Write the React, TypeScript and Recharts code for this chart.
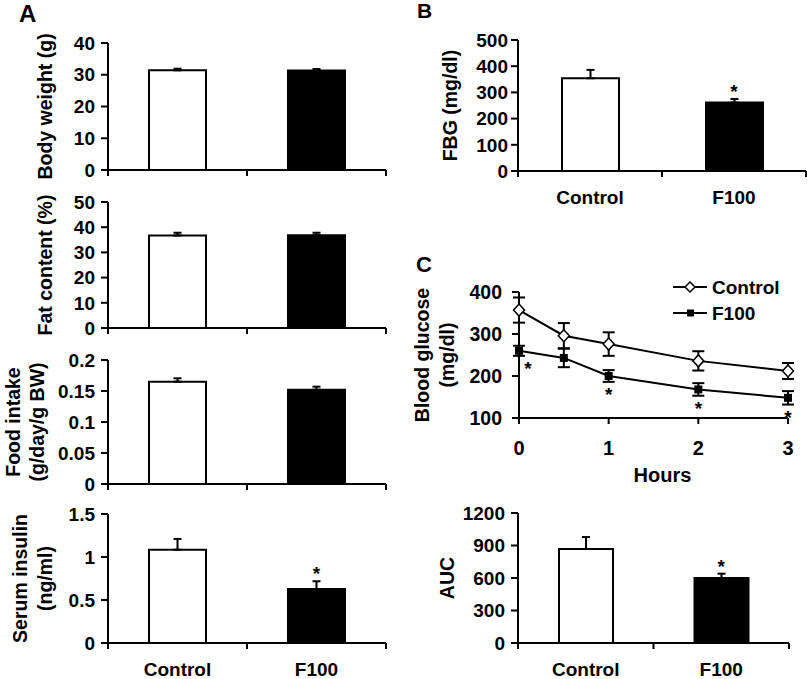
import React from 'react';
import {
  ComposedChart,
  Bar,
  Cell,
  Line,
  XAxis,
  YAxis,
  ErrorBar,
  ReferenceDot,
  Legend,
} from 'recharts';

const W = 807;
const H = 679;
const FONT = '"Liberation Sans", Arial, Helvetica, sans-serif';

// groups
const groups = ['Control', 'F100'];
const barFills = ['#ffffff', '#000000'];

// panel A
const bodyWeight = [31.4, 31.3];
const bodyWeightErr = [0.5, 0.5];
const fatContent = [36.7, 36.8];
const fatContentErr = [1.1, 1.0];
const foodIntake = [0.165, 0.152];
const foodIntakeErr = [0.0055, 0.005];
const serumInsulin = [1.085, 0.628];
const serumInsulinErr = [0.125, 0.09];
const serumInsulinSig = [false, true];

// panel B
const fbg = [354, 261];
const fbgErr = [32, 14];
const fbgSig = [false, true];

// panel C
const hours = [0, 0.5, 1, 2, 3];
const controlGlucose = [357, 296, 276, 236, 212];
const controlGlucoseErr = [30, 30, 28, 23, 19];
const f100Glucose = [260, 243, 200, 168, 148];
const f100GlucoseErr = [12, 22, 14, 15, 16];
const f100GlucoseSig = [true, false, true, true, true];
const auc = [868, 600];
const aucErr = [110, 40];
const aucSig = [false, true];

const txt = { fontFamily: FONT, fontWeight: 700, fill: '#000' } as const;
const axisLine = { stroke: '#000', strokeWidth: 2 };

type Box = { left: number; right: number; top: number; bottom: number };

function AxisTitle({ viewBox, lines, xs, size = 19.5 }: any) {
  const cy = viewBox.y + viewBox.height / 2;
  return (
    <g>
      {lines.map((t: string, i: number) => (
        <text
          key={i}
          x={xs[i]}
          y={cy}
          transform={`rotate(-90 ${xs[i]} ${cy})`}
          textAnchor="middle"
          dominantBaseline="central"
          fontSize={size}
          {...txt}
        >
          {t}
        </text>
      ))}
    </g>
  );
}

function BandTick({ x, y, index, payload, band, showName }: any) {
  return (
    <g>
      {index === 0 && (
        <line x1={x - band / 2} x2={x - band / 2} y1={y} y2={y + 6} stroke="#000" strokeWidth={2} />
      )}
      <line x1={x + band / 2} x2={x + band / 2} y1={y} y2={y + 6} stroke="#000" strokeWidth={2} />
      {showName && (
        <text x={x} y={y + 33} textAnchor="middle" fontSize={19} {...txt}>
          {payload.value}
        </text>
      )}
    </g>
  );
}

const StarAbove = (props: any) => (
  <text x={props.cx} y={props.cy - 1} textAnchor="middle" fontSize={19} {...txt}>
    *
  </text>
);

interface BarPanelProps {
  values: number[];
  errors: number[];
  sig?: boolean[];
  domain: [number, number];
  ticks: number[];
  title: string[];
  titleX: number[];
  box: Box;
  barSize: number;
  showNames?: boolean;
  tickMargin?: number;
}

function BarPanel({ values, errors, sig, domain, ticks, title, titleX, box, barSize, showNames, tickMargin = 6 }: BarPanelProps) {
  const data = groups.map((g, i) => ({
    name: g,
    value: values[i],
    err: [0, errors[i]],
    top: values[i] + errors[i],
  }));
  const band = (box.right - box.left) / groups.length;
  return (
    <div style={{ position: 'absolute', left: 0, top: 0 }}>
      <ComposedChart
        width={W}
        height={H}
        data={data}
        margin={{ top: box.top, right: W - box.right, bottom: H - box.bottom - 40, left: box.left - 60 }}
      >
        <XAxis
          dataKey="name"
          height={40}
          axisLine={axisLine}
          tickLine={false}
          tickSize={0}
          tickMargin={0}
          interval={0}
          tick={<BandTick band={band} showName={showNames} />}
        />
        <YAxis
          width={60}
          domain={domain}
          ticks={ticks}
          interval={0}
          allowDataOverflow
          axisLine={axisLine}
          tickLine={{ stroke: '#000', strokeWidth: 2 }}
          tickSize={7}
          tickMargin={tickMargin}
          tick={{ fontSize: 19, ...txt }}
          label={<AxisTitle lines={title} xs={titleX} />}
        />
        <Bar dataKey="value" barSize={barSize} stroke="#000" strokeWidth={2} isAnimationActive={false}>
          {data.map((d, i) => (
            <Cell key={d.name} fill={barFills[i]} />
          ))}
          <ErrorBar dataKey="err" width={4} stroke="#000" strokeWidth={2} direction="y" />
        </Bar>
        {data.map((d, i) =>
          sig && sig[i] ? <ReferenceDot key={d.name} x={d.name} y={d.top} r={0} shape={StarAbove} /> : null
        )}
      </ComposedChart>
    </div>
  );
}

const DiamondDot = (props: any) => {
  const { cx, cy } = props;
  if (cx == null || cy == null) return <g />;
  return (
    <path
      d={`M${cx},${cy - 6} L${cx + 5.5},${cy} L${cx},${cy + 6} L${cx - 5.5},${cy} Z`}
      fill="#fff"
      stroke="#000"
      strokeWidth={1.5}
    />
  );
};

const SquareDot = (props: any) => {
  const { cx, cy } = props;
  if (cx == null || cy == null) return <g />;
  return <rect x={cx - 4} y={cy - 4} width={8} height={8} fill="#000" />;
};

const StarBelow = (props: any) => (
  <text
    x={props.cx + (props.hour === 0 ? 9 : 0)}
    y={props.cy + 19}
    textAnchor="middle"
    fontSize={19}
    {...txt}
  >
    *
  </text>
);

function HourTick({ x, y, payload }: any) {
  return (
    <text x={x} y={y + 31} textAnchor="middle" fontSize={20} {...txt}>
      {payload.value}
    </text>
  );
}

function HoursLabel({ viewBox }: any) {
  return (
    <text x={viewBox.x + viewBox.width / 2 + 9} y={482} textAnchor="middle" fontSize={20} {...txt}>
      Hours
    </text>
  );
}

function GlucoseLegend({ payload }: any) {
  return (
    <svg width={134} height={52}>
      {(payload || []).map((p: any, i: number) => {
        const y = 13 + i * 26;
        return (
          <g key={p.value}>
            <line x1={0} x2={34} y1={y} y2={y} stroke="#000" strokeWidth={2} />
            {i === 0 ? (
              <path d={`M17,${y - 5} L22,${y} L17,${y + 5} L12,${y} Z`} fill="#fff" stroke="#000" strokeWidth={1.5} />
            ) : (
              <rect x={14} y={y - 3.5} width={7} height={7} fill="#000" />
            )}
            <text x={39} y={y + 6.5} fontSize={19} {...txt}>
              {p.value}
            </text>
          </g>
        );
      })}
    </svg>
  );
}

function GlucosePanel() {
  const box = { left: 519, right: 788, top: 292, bottom: 418 };
  const data = hours.map((h, i) => ({
    h,
    control: controlGlucose[i],
    controlErr: controlGlucoseErr[i],
    f100: f100Glucose[i],
    f100Err: f100GlucoseErr[i],
  }));
  return (
    <div style={{ position: 'absolute', left: 0, top: 0 }}>
      <ComposedChart
        width={W}
        height={H}
        data={data}
        margin={{ top: box.top, right: W - box.right, bottom: H - box.bottom - 40, left: box.left - 60 }}
      >
        <XAxis
          dataKey="h"
          type="number"
          domain={[0, 3]}
          ticks={[0, 1, 2, 3]}
          interval={0}
          height={40}
          axisLine={axisLine}
          tickLine={{ stroke: '#000', strokeWidth: 2 }}
          tickSize={6}
          tickMargin={0}
          tick={<HourTick />}
          label={<HoursLabel />}
        />
        <YAxis
          width={60}
          domain={[100, 400]}
          ticks={[100, 200, 300, 400]}
          interval={0}
          allowDataOverflow
          axisLine={axisLine}
          tickLine={{ stroke: '#000', strokeWidth: 2 }}
          tickSize={7}
          tickMargin={10}
          tick={{ fontSize: 19.5, ...txt }}
          label={<AxisTitle lines={['Blood glucose', '(mg/dl)']} xs={[422, 447]} />}
        />
        <Line
          name="Control"
          dataKey="control"
          stroke="#000"
          strokeWidth={2}
          dot={DiamondDot}
          isAnimationActive={false}
        >
          <ErrorBar dataKey="controlErr" width={6} stroke="#000" strokeWidth={2} direction="y" />
        </Line>
        <Line
          name="F100"
          dataKey="f100"
          stroke="#000"
          strokeWidth={2}
          dot={SquareDot}
          isAnimationActive={false}
        >
          <ErrorBar dataKey="f100Err" width={6} stroke="#000" strokeWidth={2} direction="y" />
        </Line>
        {hours.map((h, i) =>
          f100GlucoseSig[i] ? (
            <ReferenceDot
              key={h}
              x={h}
              y={f100Glucose[i] - f100GlucoseErr[i]}
              r={0}
              shape={(p: any) => <StarBelow {...p} hour={h} />}
            />
          ) : null
        )}
        <Legend
          layout="horizontal"
          align="center"
          verticalAlign="middle"
          content={<GlucoseLegend />}
          wrapperStyle={{ position: 'absolute', left: 673, top: 274, width: 134, height: 52 }}
        />
      </ComposedChart>
    </div>
  );
}

export default function App() {
  return (
    <div style={{ position: 'absolute', left: 0, top: 0, width: W, height: H, background: '#fff', overflow: 'hidden' }}>
      <BarPanel
        values={bodyWeight}
        errors={bodyWeightErr}
        domain={[0, 40]}
        ticks={[0, 10, 20, 30, 40]}
        title={['Body weight (g)']}
        titleX={[45]}
        box={{ left: 108, right: 386, top: 43, bottom: 170 }}
        barSize={57}
      />
      <BarPanel
        values={fatContent}
        errors={fatContentErr}
        domain={[0, 50]}
        ticks={[0, 10, 20, 30, 40, 50]}
        title={['Fat content (%)']}
        titleX={[45]}
        box={{ left: 108, right: 386, top: 202, bottom: 328 }}
        barSize={57}
      />
      <BarPanel
        values={foodIntake}
        errors={foodIntakeErr}
        domain={[0, 0.2]}
        ticks={[0, 0.05, 0.1, 0.15, 0.2]}
        title={['Food intake', '(g/day/g BW)']}
        titleX={[13, 37]}
        box={{ left: 108, right: 386, top: 360, bottom: 484 }}
        barSize={57}
      />
      <BarPanel
        values={serumInsulin}
        errors={serumInsulinErr}
        sig={serumInsulinSig}
        domain={[0, 1.5]}
        ticks={[0, 0.5, 1, 1.5]}
        title={['Serum insulin', '(ng/ml)']}
        titleX={[20, 45]}
        box={{ left: 108, right: 386, top: 514, bottom: 643 }}
        barSize={57}
        showNames
      />
      <BarPanel
        values={fbg}
        errors={fbgErr}
        sig={fbgSig}
        domain={[0, 500]}
        ticks={[0, 100, 200, 300, 400, 500]}
        title={['FBG (mg/dl)']}
        titleX={[450]}
        box={{ left: 518, right: 806, top: 40, bottom: 171 }}
        barSize={57}
        showNames
        tickMargin={3}
      />
      <GlucosePanel />
      <BarPanel
        values={auc}
        errors={aucErr}
        sig={aucSig}
        domain={[0, 1200]}
        ticks={[0, 300, 600, 900, 1200]}
        title={['AUC']}
        titleX={[447]}
        box={{ left: 518, right: 789, top: 513, bottom: 643 }}
        barSize={54}
        showNames
      />
      <svg width={W} height={H} style={{ position: 'absolute', left: 0, top: 0, pointerEvents: 'none' }}>
        <text x={19} y={22} fontSize={24} {...txt}>A</text>
        <text x={417} y={18} fontSize={21} {...txt}>B</text>
        <text x={416} y={272} fontSize={22} {...txt}>C</text>
      </svg>
    </div>
  );
}
